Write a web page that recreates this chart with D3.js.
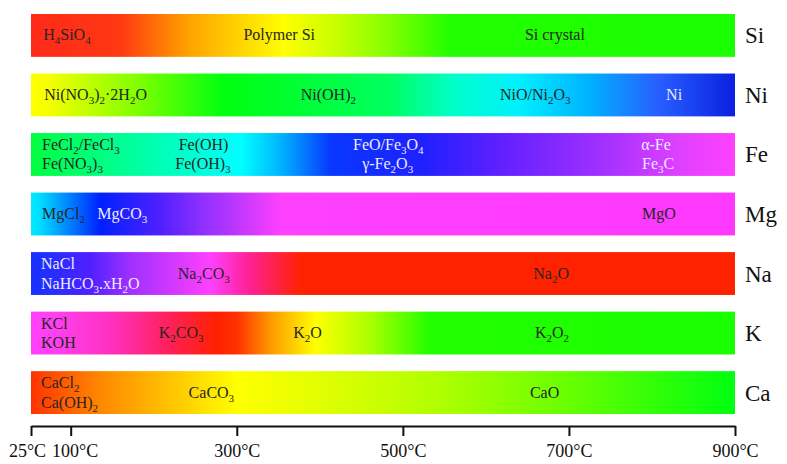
<!DOCTYPE html>
<html>
<head>
<meta charset="utf-8">
<script src="https://cdn.jsdelivr.net/npm/d3@7"></script>
<style>
  body { margin: 0; background: #fff; }
  svg { display: block; font-family: "Liberation Serif", "Times New Roman", serif; }
  .axis path, .axis line { stroke: #111; stroke-width: 2; }
  .axis text { font-size: 18px; fill: #111; font-family: "Liberation Serif", serif; }
</style>
</head>
<body>
<svg id="chart"></svg>
<script>
// temperature ticks (°C)
const tempTicks = [25, 100, 300, 500, 700, 900];
const elements = ["Si", "Ni", "Fe", "Mg", "Na", "K", "Ca"];

// colour stops along each bar: [temperature, colour]
const siStops = [[25, "#ff2a1a"], [160, "#ff3812"], [240, "#ffa000"], [356, "#ffff00"], [416, "#ccff00"], [485, "#80ff00"], [557, "#22ff00"], [900, "#1aff00"]];
const niStops = [[25, "#ffff00"], [60, "#f4ff00"], [180, "#80ff00"], [285, "#00ff10"], [485, "#00ff60"], [560, "#00ffc8"], [640, "#00f0ff"], [726, "#00b0ff"], [806, "#2860ff"], [900, "#0a20e0"]];
const feStops = [[25, "#00ff40"], [60, "#00ff50"], [172, "#00ff9a"], [305, "#00ffff"], [355, "#00b0ff"], [413, "#0838ff"], [525, "#2020ff"], [617, "#6020ff"], [738, "#a030ff"], [834, "#e040ff"], [900, "#ff40ff"]];
const mgStops = [[25, "#00eaff"], [40, "#00e0ff"], [136, "#0020ff"], [208, "#5020ff"], [260, "#9030ff"], [355, "#ff40ff"], [900, "#ff38ff"]];
const naStops = [[25, "#1a30ff"], [45, "#1c30ff"], [124, "#5020ff"], [172, "#a030ff"], [268, "#ff40ff"], [317, "#ff2090"], [377, "#ff2200"], [900, "#ff2200"]];
const kStops = [[25, "#ff40ff"], [70, "#ff40f0"], [148, "#ff30c0"], [215, "#ff2060"], [275, "#ff2000"], [300, "#ff3000"], [341, "#ff9900"], [395, "#ffff00"], [461, "#aaff00"], [533, "#22ff00"], [900, "#1aff00"]];
const caStops = [[25, "#ff3300"], [136, "#ff8800"], [208, "#ffbb00"], [300, "#ffff00"], [413, "#ddff00"], [557, "#aaff00"], [702, "#66ff00"], [900, "#00ff10"]];
const rowStops = [siStops, niStops, feStops, mgStops, naStops, kStops, caStops];

// phase labels: t = temperature where the text starts, line 0 = single, 1 = upper, 2 = lower
// "_x" marks a subscript character
const siLabels = [{ t: 48, line: 0, text: "H_4SiO_4" }, { t: 308, line: 0, text: "Polymer Si" }, { t: 647, line: 0, text: "Si crystal" }];
const niLabels = [{ t: 50, line: 0, text: "Ni(NO_3)_2·2H_2O" }, { t: 377, line: 0, text: "Ni(OH)_2" }, { t: 617, line: 0, text: "NiO/Ni_2O_3" }, { t: 817, line: 0, text: "Ni" }];
const feLabels = [{ t: 46, line: 1, text: "FeCl_2/FeCl_3" }, { t: 46, line: 2, text: "Fe(NO_3)_3" }, { t: 230, line: 1, text: "Fe(OH)" }, { t: 226, line: 2, text: "Fe(OH)_3" },
  { t: 440, line: 1, text: "FeO/Fe_3O_4" }, { t: 451, line: 2, text: "γ-Fe_2O_3" }, { t: 787, line: 1, text: "α-Fe" }, { t: 788, line: 2, text: "Fe_3C" }];
const mgLabels = [{ t: 46, line: 0, text: "MgCl_2" }, { t: 132, line: 0, text: "MgCO_3" }, { t: 788, line: 0, text: "MgO" }];
const naLabels = [{ t: 44, line: 1, text: "NaCl" }, { t: 44, line: 2, text: "NaHCO_3.xH_2O" }, { t: 229, line: 0, text: "Na_2CO_3" }, { t: 657, line: 0, text: "Na_2O" }];
const kLabels = [{ t: 44, line: 1, text: "KCl" }, { t: 44, line: 2, text: "KOH" }, { t: 206, line: 0, text: "K_2CO_3" }, { t: 368, line: 0, text: "K_2O" }, { t: 659, line: 0, text: "K_2O_2" }];
const caLabels = [{ t: 44, line: 1, text: "CaCl_2" }, { t: 44, line: 2, text: "Ca(OH)_2" }, { t: 242, line: 0, text: "CaCO_3" }, { t: 653, line: 0, text: "CaO" }];
const rowLabels = [siLabels, niLabels, feLabels, mgLabels, naLabels, kLabels, caLabels];

// labels drawn in pale text
const lightText = ["Ni", "FeO/Fe_3O_4", "γ-Fe_2O_3", "α-Fe", "Fe_3C", "MgCO_3", "NaCl", "NaHCO_3.xH_2O"];

const width = 787, height = 464;

const svg = d3.select("#chart")
    .attr("width", width)
    .attr("height", height);

// 25 -> 100 °C is stretched compared with the rest of the axis
const x = d3.scaleLinear()
    .domain([25, 100, 900])
    .range([31, 70.7, 735]);

const y = d3.scaleBand()
    .domain(elements)
    .range([14, 414])
    .paddingInner(0.28)
    .paddingOuter(0);

const defs = svg.append("defs");

elements.forEach((el, i) => {
    const x0 = x(25), x1 = x(900);
    const grad = defs.append("linearGradient")
        .attr("id", `grad-${el}`)
        .attr("gradientUnits", "userSpaceOnUse")
        .attr("x1", x0).attr("x2", x1)
        .attr("y1", 0).attr("y2", 0);
    grad.selectAll("stop")
        .data(rowStops[i])
        .join("stop")
        .attr("offset", (d) => (x(d[0]) - x0) / (x1 - x0))
        .attr("stop-color", (d) => d[1]);
});

const rows = svg.selectAll(".row")
    .data(elements)
    .join("g")
    .attr("class", "row");

rows.append("rect")
    .attr("x", x(25))
    .attr("y", (d) => y(d))
    .attr("width", x(900) - x(25))
    .attr("height", y.bandwidth())
    .attr("fill", (d) => `url(#grad-${d})`);

rows.append("text")
    .attr("x", x(900) + 10)
    .attr("y", (d) => y(d) + y.bandwidth() / 2 + 8)
    .attr("font-size", 23)
    .attr("fill", "#111")
    .text((d) => d);

function addFormula(sel, str) {
    const parts = str.split(/(_.)/).filter((p) => p !== "");
    let sub = false;
    parts.forEach((p) => {
        if (p[0] === "_") {
            sel.append("tspan").attr("font-size", 11).attr("dy", sub ? 0 : 4).text(p[1]);
            sub = true;
        } else {
            sel.append("tspan").attr("dy", sub ? -4 : 0).text(p);
            sub = false;
        }
    });
}

rows.each(function (el, i) {
    const mid = y(el) + y.bandwidth() / 2;
    d3.select(this).selectAll(".phase")
        .data(rowLabels[i])
        .join("text")
        .attr("class", "phase")
        .attr("x", (d) => x(d.t))
        .attr("y", (d) => d.line === 0 ? mid + 5 : d.line === 1 ? mid - 4.5 : mid + 15)
        .attr("font-size", 16)
        .attr("fill", (d) => lightText.includes(d.text) ? "#eeeaff" : "#262626")
        .each(function (d) { addFormula(d3.select(this), d.text); });
});

const xAxis = d3.axisBottom(x)
    .tickValues(tempTicks)
    .tickSize(10)
    .tickSizeOuter(0)
    .tickPadding(8)
    .tickFormat((d) => `${d}°C`);

const axisG = svg.append("g")
    .attr("class", "axis")
    .attr("transform", "translate(0, 426)")
    .call(xAxis);

// nudge the two crowded left labels apart
axisG.selectAll(".tick text")
    .attr("dx", (d) => d === 25 ? -4 : d === 100 ? 4 : 0);
</script>
</body>
</html>
